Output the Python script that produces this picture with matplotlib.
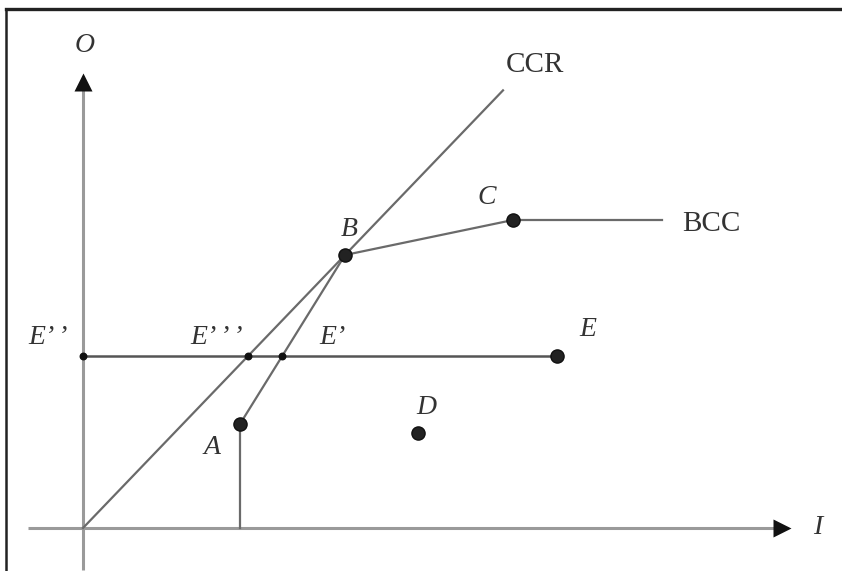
import numpy as np
import matplotlib.pyplot as plt

# DEA frontier sketch: points in (input I, output O) units
point_names = ["A", "B", "C", "D", "E"]
point_x = [3.14, 5.24, 8.6, 6.7, 9.48]
point_y = [2.08, 5.46, 6.16, 1.9, 3.44]

ccr_end_x = 8.4        # CCR ray ends here
bcc_end_x = 11.58      # flat BCC part ends here
x_axis = [-1.1, 14.1]
y_axis = [-0.84, 9.04]

pts = dict(zip(point_names, zip(point_x, point_y)))
ax_, ay_ = pts["A"]
bx_, by_ = pts["B"]
cx_, cy_ = pts["C"]
ex_, ey_ = pts["E"]

# projections of E onto the O axis, the CCR ray and the BCC frontier
e2 = (0.0, ey_)
e3 = (ey_ * bx_ / by_, ey_)
e1 = (ax_ + (ey_ - ay_) / (by_ - ay_) * (bx_ - ax_), ey_)

fig = plt.figure(figsize=(8.42, 5.71), dpi=100)
ax = fig.add_axes([0, 0, 1, 1])
ax.set_xlim(-83 / 50, (842 - 83) / 50)
ax.set_ylim((528 - 571) / 50, 528 / 50)
ax.axis("off")

axis_col = "#9a9a9a"
line_col = "#6a6a6a"
serif = ["Liberation Serif", "DejaVu Serif"]

# axes with arrow heads
ax.plot(x_axis, [0, 0], color=axis_col, lw=2.2, solid_capstyle="butt")
ax.plot([0, 0], y_axis, color=axis_col, lw=2.2, solid_capstyle="butt")
ax.plot(x_axis[1] - 0.12, 0, marker=">", ms=13, color="#111111", mec="none")
ax.plot(0, y_axis[1] - 0.12, marker="^", ms=13, color="#111111", mec="none")

# CCR ray from origin through B
ccr_x = np.array([0, ccr_end_x])
ax.plot(ccr_x, ccr_x * by_ / bx_, color=line_col, lw=1.6)

# BCC frontier: A down to axis, A-B-C, then flat
ax.plot([ax_, ax_], [0, ay_], color=line_col, lw=1.6)
ax.plot([ax_, bx_, cx_, bcc_end_x], [ay_, by_, cy_, cy_], color=line_col, lw=1.6)

# horizontal line through E
ax.plot([0, ex_], [ey_, ey_], color="#555555", lw=1.8)

# data points
ax.scatter(point_x, point_y, s=90, color="#222222", edgecolor="#111111", zorder=5)
ax.scatter([e2[0], e3[0], e1[0]], [ey_, ey_, ey_], s=22, color="#111111", zorder=5)

txt = dict(family=serif, fontsize=20, style="italic", color="#333333")
ax.text(0.04, 9.66, "O", ha="center", va="center", **txt)
ax.text(14.7, 0.02, "I", ha="center", va="center", **txt)
ax.text(ax_ - 0.56, ay_ - 0.46, "A", ha="center", va="center", **txt)
ax.text(bx_ + 0.08, by_ + 0.5, "B", ha="center", va="center", **txt)
ax.text(cx_ - 0.52, cy_ + 0.46, "C", ha="center", va="center", **txt)
ax.text(pts["D"][0] + 0.16, pts["D"][1] + 0.5, "D", ha="center", va="center", **txt)
ax.text(ex_ + 0.62, ey_ + 0.52, "E", ha="center", va="center", **txt)
ax.text(-0.69, ey_ + 0.38, "E’ ’", ha="center", va="center", **txt)
ax.text(e3[0] - 0.62, ey_ + 0.38, "E’ ’ ’", ha="center", va="center", **txt)
ax.text(e1[0] + 1.0, ey_ + 0.38, "E’", ha="center", va="center", **txt)

lbl = dict(family=serif, fontsize=21, color="#333333")
ax.text(8.46, 9.26, "CCR", ha="left", va="center", **lbl)
ax.text(11.98, 6.08, "BCC", ha="left", va="center", **lbl)

# picture frame (top and left edges)
fig.add_artist(plt.Line2D([6 / 842, 1], [1 - 9 / 571, 1 - 9 / 571], color="#222222", lw=2.4))
fig.add_artist(plt.Line2D([6 / 842, 6 / 842], [0, 1 - 9 / 571], color="#222222", lw=1.8))

fig.savefig("out.png", dpi=100)
